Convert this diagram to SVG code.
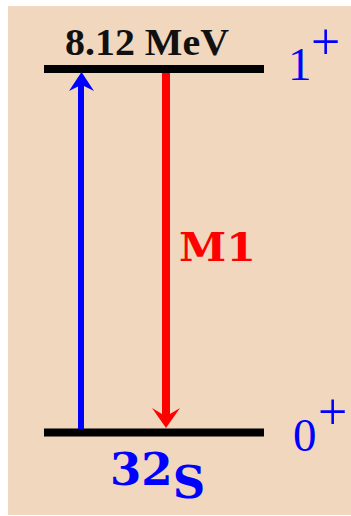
<svg xmlns="http://www.w3.org/2000/svg" width="351" height="516" viewBox="0 0 351 516">
<style>
.lvl{stroke:#000;stroke-width:8;}
.lbl{font-family:"Liberation Serif","Times New Roman",serif;fill:#0000ff;}
.bold{font-family:"DejaVu Serif",serif;font-weight:bold;}
</style>
<rect x="0" y="0" width="351" height="516" fill="#ffffff"/>
<rect x="8" y="6" width="343" height="509" fill="#f0d7bd"/>
<g id="level-excited">
<line class="lvl" x1="44" y1="69" x2="264" y2="69"/>
<text x="65" y="55" font-family="Liberation Serif, Times New Roman, serif" font-weight="bold" font-size="37" textLength="164" lengthAdjust="spacingAndGlyphs" fill="#111">8.12 MeV</text>
<text class="lbl" x="288" y="80" font-size="47">1</text>
<text class="lbl" x="311" y="59" font-size="52">+</text>
</g>
<g id="level-ground">
<line class="lvl" x1="44" y1="432.5" x2="264" y2="432.5"/>
<text class="lbl" x="293" y="451" font-size="47">0</text>
<text class="lbl" x="318" y="429" font-size="52">+</text>
<text class="bold" x="110" y="485" font-size="45" fill="#0000ff">32<tspan y="498">S</tspan></text>
</g>
<g id="connectors">
<g id="excitation">
<line x1="81" y1="429" x2="81" y2="86" stroke="#0000ff" stroke-width="6"/>
<path d="M81.5,72 L94,91 L84,86 L79,86 L69,91 Z" fill="#0000ff"/>
</g>
<g id="m1-decay">
<line x1="166" y1="73" x2="166" y2="414" stroke="#ff0000" stroke-width="8"/>
<path d="M166,428 L152,408 L162,414 L170,414 L180,408 Z" fill="#ff0000"/>
<text x="179" y="261" font-family="DejaVu Serif, serif" font-weight="bold" font-size="40" textLength="77" lengthAdjust="spacingAndGlyphs" fill="#ff0000">M1</text>
</g>
</g>
</svg>
